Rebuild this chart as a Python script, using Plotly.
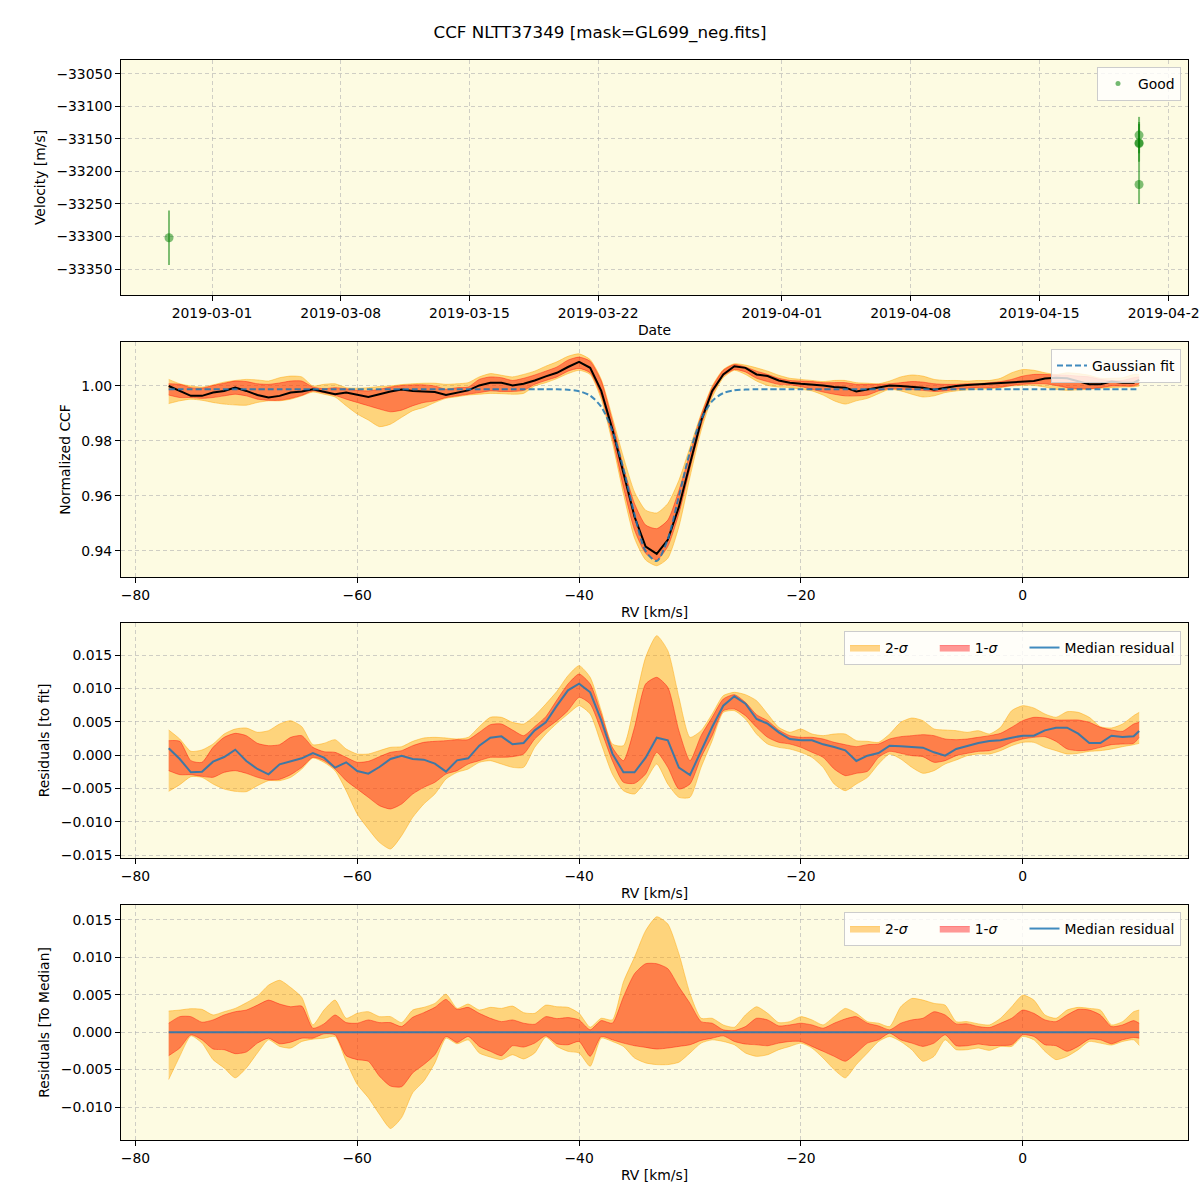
import plotly.graph_objects as go

TITLE = "CCF NLTT37349 [mask=GL699_neg.fits]"

# ---------------- Panel 1: velocities ----------------
obs_dates = ["2019-02-26 15:50", "2019-04-20 10:10", "2019-04-20 10:10",
             "2019-04-20 10:10", "2019-04-20 10:10"]
obs_vel = [-33302, -33144, -33156, -33157, -33220]
obs_err = [42, 28, 29, 33, 30]
date_ticks = ["2019-03-01", "2019-03-08", "2019-03-15", "2019-03-22",
              "2019-04-01", "2019-04-08", "2019-04-15", "2019-04-22"]

# ---------------- RV grid ----------------
rv = [-77, -76, -75, -74, -73, -72, -71, -70, -69, -68,
      -67, -66, -65, -64, -63, -62, -61, -60, -59, -58,
      -57, -56, -55, -54, -53, -52, -51, -50, -49, -48,
      -47, -46, -45, -44, -43, -42, -41,
      -40, -39, -38, -37, -36, -35, -34, -33, -32, -31,
      -30, -29, -28, -27, -26, -25, -24, -23, -22, -21,
      -20, -19, -18, -17, -16, -15, -14, -13, -12, -11,
      -10, -9, -8, -7, -6, -5, -4, -3, -2, -1,
      0, 1, 2, 3, 4, 5, 6, 7, 8, 9,
      10, 10.5]

# ---------------- Panel 2: normalized CCF ----------------
ccf_median = [1.0000, 0.9982, 0.9964, 0.9964, 0.9976, 0.9982, 0.9994, 0.9982, 0.9967, 0.9958,
              0.9964, 0.9976, 0.9980, 0.9988, 0.9980, 0.9970, 0.9976, 0.9967, 0.9960, 0.9970,
              0.9980, 0.9987, 0.9982, 0.9980, 0.9978, 0.9967, 0.9976, 0.9984, 1.0002, 1.0012,
              1.0012, 1.0002, 1.0008, 1.0020, 1.0035, 1.0048, 1.0069,
              1.0088, 1.0066, 0.9982, 0.9843, 0.9681, 0.9524, 0.9416, 0.9389, 0.9440, 0.9560,
              0.9717, 0.9873, 0.9982, 1.0042, 1.0072, 1.0066, 1.0042, 1.0036, 1.0020, 1.0012,
              1.0008, 1.0006, 1.0002, 0.9996, 0.9994, 0.9980, 0.9988, 0.9994, 1.0002, 1.0000,
              0.9996, 0.9994, 0.9986, 0.9994, 1.0000, 1.0004, 1.0006, 1.0008, 1.0010, 1.0012,
              1.0014, 1.0018, 1.0027, 1.0030, 1.0028, 1.0018, 1.0006, 1.0006, 1.0016, 1.0012,
              1.0012, 1.0022]
ccf_1s_hi = [1.0008, 1.0006, 0.9994, 0.9992, 1.0002, 1.0010, 1.0018, 1.0016, 1.0008, 1.0006,
             1.0011, 1.0018, 1.0018, 0.9996, 0.9990, 0.9994, 0.9990, 0.9984, 0.9982, 0.9988,
             0.9996, 1.0002, 1.0004, 1.0004, 1.0000, 0.9988, 0.9994, 0.9996, 1.0024, 1.0033,
             1.0030, 1.0020, 1.0028, 1.0040, 1.0054, 1.0069, 1.0094,
             1.0105, 1.0090, 1.0018, 0.9873, 0.9705, 0.9572, 0.9494, 0.9481, 0.9512, 0.9620,
             0.9753, 0.9892, 0.9994, 1.0057, 1.0078, 1.0069, 1.0054, 1.0042, 1.0028, 1.0020,
             1.0018, 1.0016, 1.0012, 1.0012, 1.0012, 1.0006, 1.0006, 1.0006, 1.0008, 1.0012,
             1.0016, 1.0014, 1.0008, 1.0006, 1.0006, 1.0008, 1.0008, 1.0012, 1.0016, 1.0024,
             1.0036, 1.0042, 1.0042, 1.0040, 1.0039, 1.0036, 1.0033, 1.0024, 1.0020, 1.0020,
             1.0030, 1.0033]
ccf_1s_lo = [0.9967, 0.9958, 0.9958, 0.9955, 0.9958, 0.9964, 0.9970, 0.9964, 0.9952, 0.9948,
             0.9948, 0.9955, 0.9966, 0.9982, 0.9975, 0.9966, 0.9952, 0.9940, 0.9928, 0.9916,
             0.9906, 0.9912, 0.9928, 0.9940, 0.9946, 0.9958, 0.9964, 0.9970, 0.9976, 0.9982,
             0.9980, 0.9980, 0.9984, 1.0006, 1.0020, 1.0033, 1.0054,
             1.0064, 1.0048, 0.9964, 0.9813, 0.9632, 0.9476, 0.9391, 0.9367, 0.9416, 0.9536,
             0.9699, 0.9855, 0.9970, 1.0036, 1.0060, 1.0051, 1.0028, 1.0016, 1.0006, 1.0004,
             0.9998, 0.9988, 0.9978, 0.9970, 0.9964, 0.9964, 0.9967, 0.9982, 0.9990, 0.9988,
             0.9987, 0.9984, 0.9980, 0.9982, 0.9988, 0.9992, 0.9994, 0.9994, 0.9996, 1.0002,
             1.0006, 1.0008, 1.0008, 1.0002, 0.9994, 0.9990, 0.9990, 0.9994, 1.0000, 1.0000,
             1.0000, 1.0008]
ccf_2s_hi = [1.0024, 1.0008, 1.0000, 0.9996, 1.0004, 1.0014, 1.0020, 1.0024, 1.0022, 1.0018,
             1.0030, 1.0036, 1.0033, 1.0000, 1.0006, 1.0008, 0.9994, 0.9992, 0.9994, 0.9998,
             1.0000, 1.0005, 1.0008, 1.0010, 1.0010, 1.0006, 1.0008, 1.0012, 1.0033, 1.0045,
             1.0039, 1.0033, 1.0042, 1.0054, 1.0072, 1.0088, 1.0108,
             1.0117, 1.0096, 1.0024, 0.9886, 0.9741, 0.9614, 0.9548, 0.9538, 0.9572, 0.9657,
             0.9777, 0.9898, 1.0000, 1.0060, 1.0081, 1.0076, 1.0066, 1.0054, 1.0039, 1.0028,
             1.0024, 1.0020, 1.0016, 1.0020, 1.0020, 1.0012, 1.0010, 1.0008, 1.0018, 1.0033,
             1.0040, 1.0036, 1.0024, 1.0020, 1.0020, 1.0018, 1.0020, 1.0020, 1.0028, 1.0048,
             1.0060, 1.0057, 1.0048, 1.0042, 1.0048, 1.0045, 1.0039, 1.0028, 1.0028, 1.0030,
             1.0042, 1.0042]
ccf_2s_lo = [0.9936, 0.9946, 0.9952, 0.9948, 0.9940, 0.9934, 0.9931, 0.9930, 0.9940, 0.9946,
             0.9946, 0.9952, 0.9964, 0.9978, 0.9970, 0.9960, 0.9928, 0.9898, 0.9876, 0.9852,
             0.9861, 0.9886, 0.9910, 0.9922, 0.9940, 0.9955, 0.9961, 0.9967, 0.9970, 0.9973,
             0.9972, 0.9970, 0.9973, 1.0000, 1.0012, 1.0027, 1.0045,
             1.0057, 1.0042, 0.9952, 0.9795, 0.9608, 0.9446, 0.9367, 0.9346, 0.9373, 0.9488,
             0.9669, 0.9837, 0.9958, 1.0030, 1.0057, 1.0042, 1.0018, 1.0002, 0.9996, 0.9994,
             0.9988, 0.9982, 0.9967, 0.9946, 0.9934, 0.9946, 0.9955, 0.9972, 0.9988, 0.9982,
             0.9970, 0.9960, 0.9964, 0.9976, 0.9982, 0.9986, 0.9988, 0.9990, 0.9994, 1.0000,
             1.0002, 1.0002, 0.9996, 0.9988, 0.9984, 0.9986, 0.9988, 0.9992, 0.9994, 0.9996,
             0.9997, 1.0000]
gauss_fit = [0.9988, 0.9988, 0.9988, 0.9988, 0.9988, 0.9988, 0.9988, 0.9988, 0.9988, 0.9988,
             0.9988, 0.9988, 0.9988, 0.9988, 0.9988, 0.9988, 0.9988, 0.9988, 0.9988, 0.9988,
             0.9988, 0.9988, 0.9988, 0.9988, 0.9988, 0.9988, 0.9988, 0.9988, 0.9988, 0.9988,
             0.9988, 0.9988, 0.9988, 0.9988, 0.9988, 0.9988, 0.9986,
             0.9981, 0.9965, 0.9924, 0.9837, 0.9698, 0.9532, 0.9399, 0.9363, 0.9443, 0.9599,
             0.9760, 0.9878, 0.9945, 0.9974, 0.9984, 0.9987, 0.9988, 0.9988, 0.9988, 0.9988,
             0.9988, 0.9988, 0.9988, 0.9988, 0.9988, 0.9988, 0.9988, 0.9988, 0.9988, 0.9988,
             0.9988, 0.9988, 0.9988, 0.9988, 0.9988, 0.9988, 0.9988, 0.9988, 0.9988, 0.9988,
             0.9988, 0.9988, 0.9988, 0.9988, 0.9988, 0.9988, 0.9988, 0.9988, 0.9988, 0.9988,
             0.9988, 0.9988]

# ---------------- Panel 3: residuals to fit ----------------
res_median = [0.0010, -0.0006, -0.0026, -0.0025, -0.0010, -0.0003, 0.0008, -0.0009, -0.0021, -0.0029,
              -0.0014, -0.0010, -0.0005, 0.0003, -0.0004, -0.0019, -0.0011, -0.0024, -0.0028, -0.0018,
              -0.0006, -0.0001, -0.0006, -0.0007, -0.0013, -0.0025, -0.0008, -0.0005, 0.0014, 0.0026,
              0.0028, 0.0016, 0.0018, 0.0037, 0.0049, 0.0074, 0.0097,
              0.0107, 0.0094, 0.0052, 0.0002, -0.0026, -0.0026, -0.0004, 0.0026, 0.0022, -0.0019,
              -0.0030, 0.0007, 0.0042, 0.0074, 0.0088, 0.0077, 0.0054, 0.0047, 0.0034, 0.0024,
              0.0022, 0.0022, 0.0016, 0.0012, 0.0007, -0.0009, -0.0001, 0.0003, 0.0014, 0.0013,
              0.0012, 0.0011, 0.0004, -0.0001, 0.0009, 0.0014, 0.0018, 0.0021, 0.0022, 0.0026,
              0.0029, 0.0029, 0.0037, 0.0041, 0.0041, 0.0032, 0.0018, 0.0018, 0.0029, 0.0027,
              0.0028, 0.0036]
res_1s_hi = [0.00215, 0.00205, -0.00085, -0.0011, 0.00115, 0.00265, 0.00325, 0.0029, 0.00175, 0.0014,
             0.00155, 0.00265, 0.0029, 0.00115, 0.0005, 0.0004, -0.00035, -0.0011, -0.00095, -0.00025,
             0.0004, 0.00065, 0.0014, 0.0019, 0.00205, 0.00215, 0.0023, 0.0023, 0.0034, 0.00455,
             0.00465, 0.00375, 0.0029, 0.00425, 0.00575, 0.00825, 0.01065,
             0.01215, 0.01065, 0.00615, 0.00115, -0.00085, 0.00415, 0.01065, 0.01165, 0.01015, 0.00365,
             -0.00085, 0.0029, 0.00565, 0.0084, 0.00905, 0.0079, 0.00605, 0.00515, 0.00375, 0.0029,
             0.00265, 0.00265, 0.0024, 0.0019, 0.00155, 0.00125, 0.00155, 0.00165, 0.0024, 0.00275,
             0.0029, 0.00305, 0.0029, 0.0024, 0.0023, 0.0024, 0.00265, 0.0029, 0.00325, 0.00415,
             0.00515, 0.00565, 0.00555, 0.00525, 0.00525, 0.00525, 0.0049, 0.00415, 0.00375, 0.00355,
             0.00465, 0.0049]
res_1s_lo = [-0.00235, -0.00295, -0.00295, -0.0032, -0.00335, -0.0026, -0.00235, -0.00275, -0.00335, -0.00375,
             -0.00365, -0.00295, -0.00185, -0.00035, -0.00085, -0.0021, -0.00385, -0.0051, -0.00635, -0.0076,
             -0.0081, -0.00735, -0.00585, -0.00485, -0.0041, -0.00285, -0.00235, -0.00135, -0.00085, -0.00035,
             -0.00035, -0.00025, 0.00015, 0.0024, 0.0039, 0.00515, 0.00665,
             0.00865, 0.00765, 0.00365, -0.00085, -0.0041, -0.00425, -0.00285, 0.0004, -0.00185, -0.0051,
             -0.00435, -0.00035, 0.0029, 0.00665, 0.0069, 0.0059, 0.00415, 0.00265, 0.0019, 0.00165,
             0.00115, 0.0004, -0.00035, -0.0021, -0.0031, -0.00275, -0.00245, -0.00035, 0.00055, 0.00025,
             -0.0001, -0.00025, -0.0011, -0.00085, -0.0001, 0.00025, 0.00055, 0.00065, 0.00115, 0.0019,
             0.0024, 0.00265, 0.00275, 0.00205, 0.0009, 0.00065, 0.00075, 0.00115, 0.00155, 0.00165,
             0.00175, 0.00265]
res_2s_hi = [0.00375, 0.0024, 0.00055, 0.00075, 0.00165, 0.00315, 0.0039, 0.00405, 0.0034, 0.00365,
             0.00465, 0.00515, 0.00425, 0.00155, 0.00175, 0.0023, 0.0009, 0.00015, 0.00015, 0.00065,
             0.00115, 0.00125, 0.00205, 0.00255, 0.00265, 0.00255, 0.0024, 0.00265, 0.00425, 0.00565,
             0.00565, 0.0049, 0.00465, 0.0059, 0.00765, 0.00955, 0.0119,
             0.0134, 0.01165, 0.00665, 0.00165, 0.0014, 0.00765, 0.01465, 0.0179, 0.01565, 0.00865,
             0.00265, 0.00365, 0.00615, 0.0089, 0.0094, 0.00905, 0.00815, 0.00615, 0.00415, 0.0034,
             0.0039, 0.00315, 0.0029, 0.00315, 0.00315, 0.00215, 0.00205, 0.0019, 0.00315, 0.0049,
             0.00555, 0.00515, 0.0039, 0.00375, 0.00365, 0.0034, 0.00365, 0.00315, 0.00415, 0.00665,
             0.0074, 0.00705, 0.00615, 0.00565, 0.0065, 0.0064, 0.00565, 0.00425, 0.00405, 0.00465,
             0.0059, 0.0064]
res_2s_lo = [-0.00545, -0.00445, -0.00325, -0.00335, -0.00435, -0.0051, -0.00545, -0.0055, -0.0046, -0.00385,
             -0.00385, -0.00335, -0.0021, -0.00045, -0.0011, -0.00235, -0.00535, -0.00885, -0.0111, -0.0131,
             -0.0141, -0.0121, -0.00935, -0.00735, -0.00585, -0.0036, -0.0026, -0.0021, -0.0011, -0.00085,
             -0.00135, -0.00185, -0.00185, 0.00115, 0.00315, 0.00475, 0.00615,
             0.0074, 0.00615, 0.00165, -0.00285, -0.00535, -0.00585, -0.00385, -0.00135, -0.00435, -0.00635,
             -0.00635, -0.00185, 0.00215, 0.0064, 0.00665, 0.0054, 0.00315, 0.00165, 0.00115, 0.0009,
             0.0004, -0.00035, -0.00185, -0.00435, -0.00535, -0.00435, -0.00335, -0.00135, 0.00015, -0.0006,
             -0.00185, -0.00275, -0.00235, -0.00135, -0.00075, -0.0001, 0.00015, 0.00015, 0.00065, 0.0014,
             0.0019, 0.0019, 0.00115, 0.00065, 0.00015, 0.00025, 0.00055, 0.00065, 0.0009, 0.00125,
             0.00155, 0.00175]

# ---------------- Panel 4: residuals to median ----------------
med_zero = [0.0] * 89
med_1s_hi = [0.0012, 0.00208, 0.00208, 0.00133, 0.00164, 0.0023, 0.00274, 0.00296, 0.00362, 0.00429,
             0.00376, 0.0034, 0.00349, 0.00053, 0.00111, 0.0023, 0.00128, 0.0012, 0.00164, 0.00128,
             0.00128, 0.00075, 0.00199, 0.00261, 0.00332, 0.00438, 0.00305, 0.00332, 0.00252, 0.00186,
             0.00141, 0.00164, 0.0012, 0.00106, 0.00208, 0.00181, 0.00195,
             0.00164, 0.00031, 0.00155, 0.0012, 0.00473, 0.00782, 0.00915, 0.00915, 0.00849, 0.00606,
             0.00385, 0.00141, 0.0012, 0.00031, 0.00022, 0.00075, 0.00186, 0.00164, 0.00084, 0.00097,
             0.0012, 0.00097, 0.00053, 0.0012, 0.00177, 0.00208, 0.0012, 0.00084, 0.00031, 0.0012,
             0.00164, 0.00186, 0.00274, 0.0023, 0.00111, 0.00111, 0.00075, 0.00062, 0.0012, 0.00186,
             0.00296, 0.00252, 0.00164, 0.00141, 0.0023, 0.00305, 0.00296, 0.0023, 0.00075, 0.00097,
             0.00155, 0.0012]
med_1s_lo = [-0.00314, -0.00212, -0.00035, -0.00102, -0.00225, -0.00234, -0.00287, -0.00265, -0.00146, -0.0008,
             -0.00155, -0.00133, -0.0008, -0.0008, -0.00022, -0.00035, -0.00314, -0.00367, -0.00389, -0.00588,
             -0.0072, -0.00729, -0.00544, -0.00433, -0.00301, -0.00057, -0.00137, -0.00057, -0.0019, -0.00256,
             -0.00314, -0.00181, -0.00199, -0.00146, -0.00049, -0.00155, -0.00168,
             -0.00124, -0.00323, -0.00057, -0.00102, -0.00146, -0.00181, -0.00203, -0.00225, -0.00212, -0.0019,
             -0.00168, -0.0011, -0.0008, -0.00049, -0.00124, -0.00159, -0.00168, -0.00181, -0.00146, -0.00124,
             -0.00124, -0.0019, -0.00256, -0.00323, -0.00389, -0.00278, -0.00146, -0.00102, -0.00013, -0.00102,
             -0.00146, -0.0019, -0.00146, -0.00035, -0.00181, -0.00181, -0.00159, -0.00177, -0.00177, -0.00168,
             -0.00035, -0.00057, -0.00168, -0.00181, -0.00256, -0.0019, -0.00093, -0.00102, -0.00155, -0.00102,
             -0.00071, -0.0008]
med_2s_hi = [0.00283, 0.00296, 0.00314, 0.00305, 0.0023, 0.00274, 0.00318, 0.00393, 0.00482, 0.00628,
             0.00694, 0.00597, 0.00464, 0.00097, 0.00296, 0.00429, 0.00186, 0.00252, 0.00274, 0.00208,
             0.00208, 0.00128, 0.00296, 0.00332, 0.00385, 0.00508, 0.00318, 0.00376, 0.00296, 0.00332,
             0.00318, 0.00349, 0.00261, 0.00252, 0.00362, 0.0034, 0.00332,
             0.00252, 0.00066, 0.00186, 0.00164, 0.00672, 0.01004, 0.01357, 0.01543, 0.01446, 0.01048,
             0.00517, 0.00186, 0.00186, 0.00097, 0.00066, 0.0023, 0.0034, 0.00252, 0.00128, 0.00141,
             0.00208, 0.00164, 0.00097, 0.00208, 0.00318, 0.00252, 0.00141, 0.0012, 0.00075, 0.0034,
             0.00451, 0.00429, 0.00385, 0.00362, 0.00141, 0.00141, 0.00111, 0.00097, 0.00186, 0.0034,
             0.00495, 0.00429, 0.0023, 0.00186, 0.00296, 0.00332, 0.00318, 0.00296, 0.00097, 0.00141,
             0.00274, 0.00296]
med_2s_lo = [-0.00632, -0.00323, -0.00049, -0.00146, -0.00367, -0.00478, -0.0061, -0.00478, -0.00278, -0.00102,
             -0.0019, -0.00212, -0.00124, -0.00093, -0.0008, -0.00057, -0.00389, -0.00698, -0.00876, -0.01097,
             -0.01287, -0.01141, -0.00809, -0.00654, -0.00411, -0.0008, -0.00155, -0.00102, -0.00278, -0.00332,
             -0.00367, -0.00301, -0.00358, -0.00278, -0.00066, -0.0019, -0.00256,
             -0.00278, -0.00456, -0.0008, -0.00124, -0.0019, -0.00345, -0.00411, -0.00433, -0.00433, -0.00402,
             -0.00278, -0.00146, -0.00102, -0.00124, -0.00168, -0.00278, -0.00323, -0.00301, -0.00234, -0.0019,
             -0.00146, -0.00212, -0.00345, -0.005, -0.0061, -0.00433, -0.00278, -0.00124, -0.00057, -0.00124,
             -0.00234, -0.00389, -0.00323, -0.00102, -0.00234, -0.00234, -0.00212, -0.00243, -0.0019, -0.0019,
             -0.00057, -0.00102, -0.00256, -0.00367, -0.00323, -0.00234, -0.00124, -0.00146, -0.00172, -0.00124,
             -0.00102, -0.00177]

# ---------------- styling ----------------
FONT = "DejaVu Sans"
BG = "#fdfbe2"
GRID = "rgba(176,176,176,0.6)"
ORANGE = "rgba(255,165,0,0.45)"
RED = "rgba(255,0,0,0.4)"
BLUE = "rgba(31,119,180,0.85)"
PAD = "&nbsp;" * 5

fig = go.Figure()

# Panel 1
fig.add_trace(go.Scatter(
    x=obs_dates, y=obs_vel, mode="markers", name="Good",
    marker=dict(color="rgba(0,128,0,0.5)", size=9, line=dict(width=0)),
    error_y=dict(type="data", array=obs_err, color="rgba(0,128,0,0.5)", thickness=2, width=0),
    xaxis="x", yaxis="y", legend="legend", showlegend=False))
# legend-only entry with the small legend marker
fig.add_trace(go.Scatter(
    x=[None], y=[None], mode="markers", name="Good",
    marker=dict(color="rgba(0,128,0,0.55)", size=5, line=dict(width=0)),
    xaxis="x", yaxis="y", legend="legend", showlegend=True))


def add_bands(xa, ya, lo2, hi2, lo1, hi1, leg, show):
    fig.add_trace(go.Scatter(x=rv, y=lo2, mode="lines", line=dict(color=ORANGE, width=1, shape="spline", smoothing=0.6),
                             xaxis=xa, yaxis=ya, showlegend=False, hoverinfo="skip", legend=leg))
    fig.add_trace(go.Scatter(x=rv, y=hi2, mode="lines", fill="tonexty", fillcolor=ORANGE,
                             line=dict(color=ORANGE, width=1, shape="spline", smoothing=0.6),
                             name="2-<i>σ</i>" + PAD, xaxis=xa, yaxis=ya, showlegend=show, legend=leg))
    fig.add_trace(go.Scatter(x=rv, y=lo1, mode="lines", line=dict(color=RED, width=1, shape="spline", smoothing=0.6),
                             xaxis=xa, yaxis=ya, showlegend=False, hoverinfo="skip", legend=leg))
    fig.add_trace(go.Scatter(x=rv, y=hi1, mode="lines", fill="tonexty", fillcolor=RED,
                             line=dict(color=RED, width=1, shape="spline", smoothing=0.6),
                             name="1-<i>σ</i>" + PAD, xaxis=xa, yaxis=ya, showlegend=show, legend=leg))


# Panel 2
add_bands("x2", "y2", ccf_2s_lo, ccf_2s_hi, ccf_1s_lo, ccf_1s_hi, "legend2", False)
fig.add_trace(go.Scatter(x=rv, y=ccf_median, mode="lines", line=dict(color="black", width=2),
                         xaxis="x2", yaxis="y2", showlegend=False, legend="legend2"))
fig.add_trace(go.Scatter(x=rv, y=gauss_fit, mode="lines", name="Gaussian fit",
                         line=dict(color=BLUE, width=2, dash="6px,3px", shape="spline", smoothing=0.8),
                         xaxis="x2", yaxis="y2", showlegend=True, legend="legend2"))

# Panel 3
add_bands("x3", "y3", res_2s_lo, res_2s_hi, res_1s_lo, res_1s_hi, "legend3", True)
fig.add_trace(go.Scatter(x=rv, y=res_median, mode="lines", name="Median residual",
                         line=dict(color=BLUE, width=2),
                         xaxis="x3", yaxis="y3", showlegend=True, legend="legend3"))

# Panel 4
add_bands("x4", "y4", med_2s_lo, med_2s_hi, med_1s_lo, med_1s_hi, "legend4", True)
fig.add_trace(go.Scatter(x=rv, y=med_zero, mode="lines", name="Median residual",
                         line=dict(color=BLUE, width=2),
                         xaxis="x4", yaxis="y4", showlegend=True, legend="legend4"))

XD = [121 / 1200, 1188 / 1200]


def ydom(top, bottom):
    return [1 - bottom / 1200, 1 - top / 1200]


axis_common = dict(showline=True, linecolor="black", linewidth=1, mirror=True,
                   ticks="outside", ticklen=5, tickcolor="black", tickwidth=1,
                   showgrid=True, gridcolor=GRID, griddash="4px,3px", gridwidth=1,
                   zeroline=False, tickfont=dict(family=FONT, size=13.9, color="black"),
                   automargin=False, ticklabeloverflow="allow")


def xtitle(t):
    return dict(text=t, font=dict(family=FONT, size=13.9, color="black"), standoff=5)


def ytitle(t):
    return dict(text=t, font=dict(family=FONT, size=13.9, color="black"), standoff=7)


layout = dict(
    width=1200, height=1200,
    margin=dict(l=0, r=0, t=0, b=0),
    paper_bgcolor="white", plot_bgcolor=BG,
    font=dict(family=FONT, size=13.9, color="black"),
    title=dict(text=TITLE, x=0.5, xanchor="center", y=1 - 32 / 1200, yanchor="middle",
               font=dict(family=FONT, size=16.7, color="black")),
    xaxis=dict(domain=XD, anchor="y", type="date",
               range=["2019-02-24 01:10", "2019-04-23 02:05"],
               tickvals=date_ticks, tickformat="%Y-%m-%d", title=xtitle("Date"), **axis_common),
    yaxis=dict(domain=ydom(60, 295), anchor="x", range=[-33390, -33028.5],
               tickvals=[-33350, -33300, -33250, -33200, -33150, -33100, -33050],
               tickformat="d", title=ytitle("Velocity [m/s]"), **axis_common),
    xaxis2=dict(domain=XD, anchor="y2", range=[-81.3, 14.9], dtick=20, tick0=0,
                title=xtitle("RV [km/s]"), **axis_common),
    yaxis2=dict(domain=ydom(342, 577), anchor="x2", range=[0.9305, 1.016],
                tickvals=[0.94, 0.96, 0.98, 1.00], tickformat=".2f",
                title=ytitle("Normalized CCF"), **axis_common),
    xaxis3=dict(domain=XD, anchor="y3", range=[-81.3, 14.9], dtick=20, tick0=0,
                title=xtitle("RV [km/s]"), **axis_common),
    yaxis3=dict(domain=ydom(623, 858), anchor="x3", range=[-0.01545, 0.0198],
                tickvals=[-0.015, -0.010, -0.005, 0.0, 0.005, 0.010, 0.015], tickformat=".3f",
                title=ytitle("Residuals [to fit]"), **axis_common),
    xaxis4=dict(domain=XD, anchor="y4", range=[-81.3, 14.9], dtick=20, tick0=0,
                title=xtitle("RV [km/s]"), **axis_common),
    yaxis4=dict(domain=ydom(905, 1140), anchor="x4", range=[-0.01441, 0.017],
                tickvals=[-0.010, -0.005, 0.0, 0.005, 0.010, 0.015], tickformat=".3f",
                title=ytitle("Residuals [To Median]"), **axis_common),
)

leg_common = dict(bgcolor="rgba(255,255,255,0.8)", bordercolor="#cccccc", borderwidth=1,
                  font=dict(family=FONT, size=13.9, color="black"),
                  xanchor="right", yanchor="top", traceorder="normal")
layout["legend"] = dict(x=1181 / 1200, y=1 - 67 / 1200, **leg_common)
layout["legend2"] = dict(x=1181 / 1200, y=1 - 349 / 1200, **leg_common)
layout["legend3"] = dict(x=1181 / 1200, y=1 - 631 / 1200, orientation="h", **leg_common)
layout["legend4"] = dict(x=1181 / 1200, y=1 - 912 / 1200, orientation="h", **leg_common)

fig.update_layout(**layout)
fig.write_html("out.html", config={"displayModeBar": False},
               post_script="document.body.style.margin='0';")
